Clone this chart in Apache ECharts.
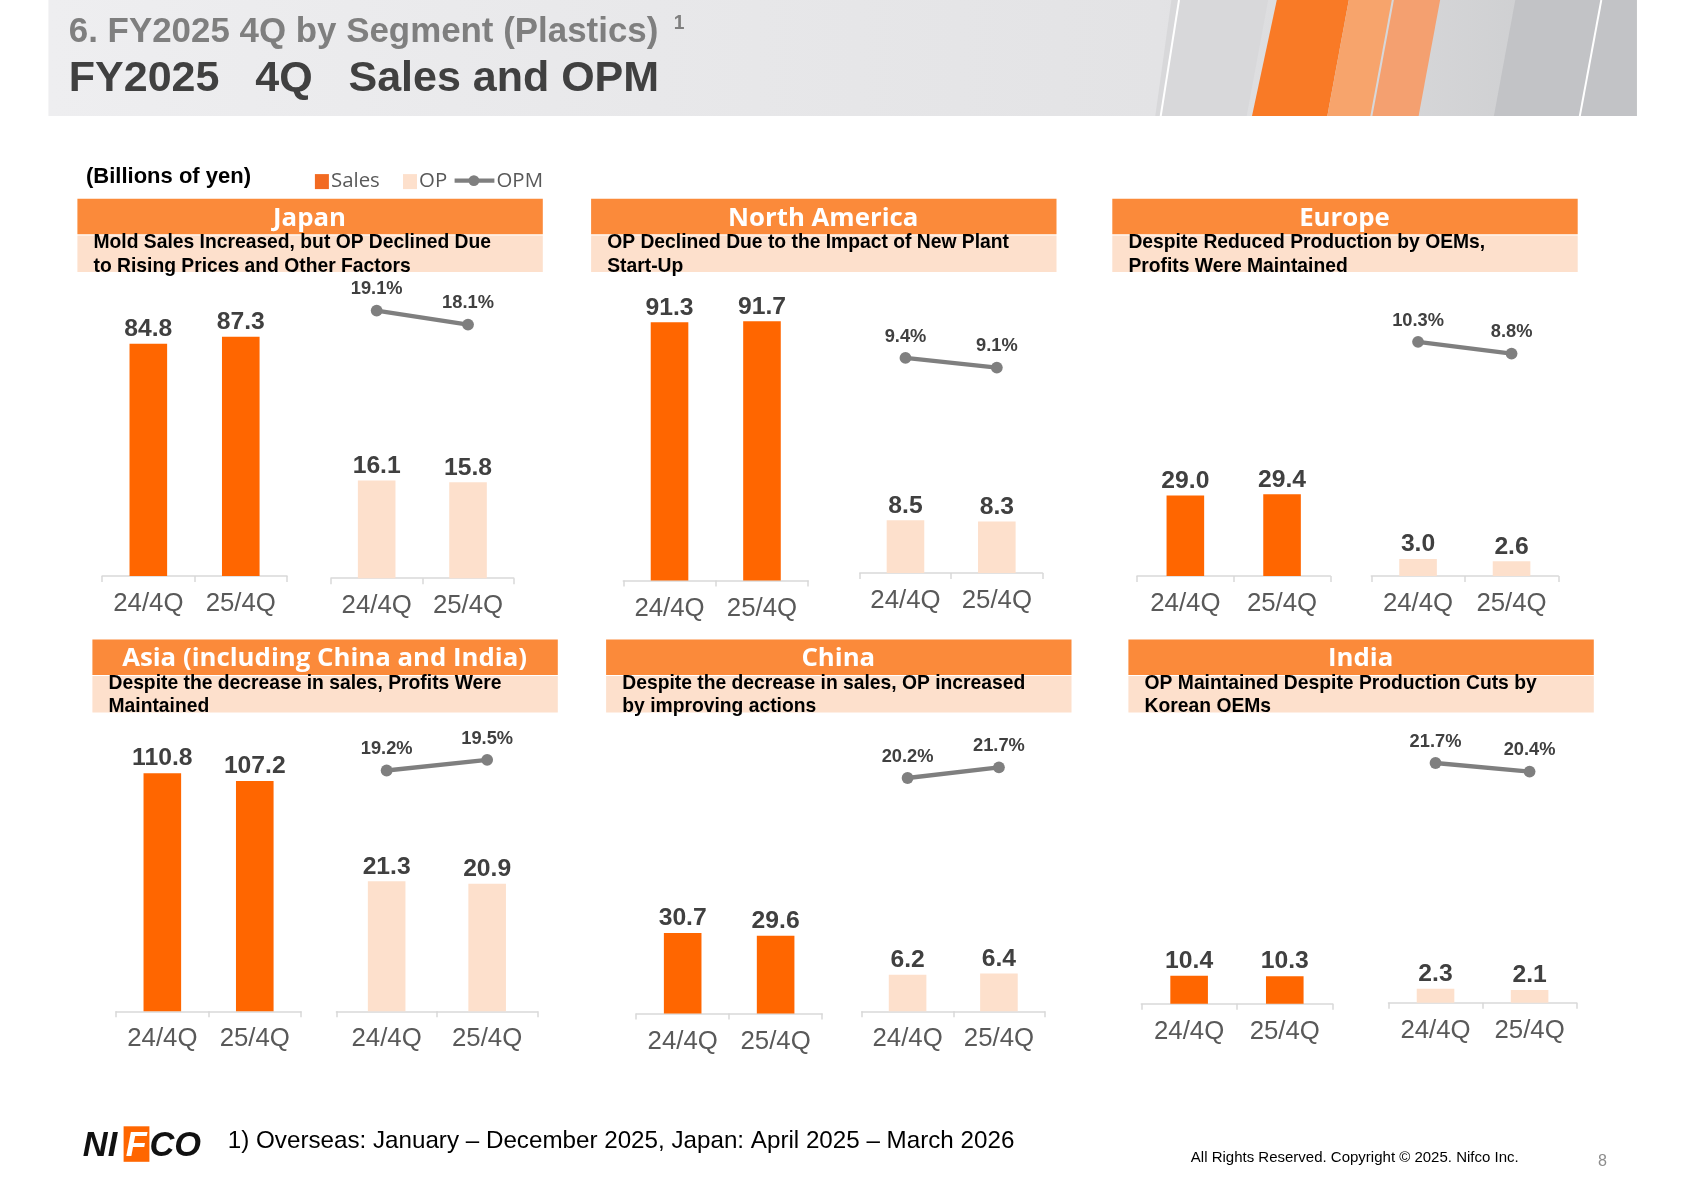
<!DOCTYPE html>
<html>
<head>
<meta charset="utf-8">
<script src="https://cdn.jsdelivr.net/npm/echarts@6/dist/echarts.min.js"></script>
<style>html,body{margin:0;padding:0;background:#fff}#c{width:1683px;height:1190px}</style>
</head>
<body>
<div id="c"></div>
<script>
/* data */
var periods = ['24/4Q', '25/4Q'];
var segments = ['Japan', 'North America', 'Europe', 'Asia (including China and India)', 'China', 'India'];
var notes = [
    ['Mold Sales Increased, but OP Declined Due', 'to Rising Prices and Other Factors'],
    ['OP Declined Due to the Impact of New Plant', 'Start-Up'],
    ['Despite Reduced Production by OEMs,', 'Profits Were Maintained'],
    ['Despite the decrease in sales, Profits Were', 'Maintained'],
    ['Despite the decrease in sales, OP increased', 'by improving actions'],
    ['OP Maintained Despite Production Cuts by', 'Korean OEMs']
];
var sales = [[84.8, 87.3], [91.3, 91.7], [29.0, 29.4], [110.8, 107.2], [30.7, 29.6], [10.4, 10.3]];
var op = [[16.1, 15.8], [8.5, 8.3], [3.0, 2.6], [21.3, 20.9], [6.2, 6.4], [2.3, 2.1]];
var opm = [[19.1, 18.1], [9.4, 9.1], [10.3, 8.8], [19.2, 19.5], [20.2, 21.7], [21.7, 20.4]];

/* layout, in reference units (scaled by K) */
var K = 1683 / 1566;
function s(v) { return Math.round(v * K * 10) / 10; }
var panels = [
    {hx: 72, hy: 185, sx: [95, 267], sb: 536, sp: 2.55, ox: [308, 478], ob: 538, op: 5.65, my: [289, 302]},
    {hx: 550, hy: 185, sx: [580, 752], sb: 540, sp: 2.63, ox: [800, 970], ob: 533, op: 5.76, my: [333, 342]},
    {hx: 1035, hy: 185, sx: [1058, 1238], sb: 536, sp: 2.59, ox: [1276, 1450], ob: 536, op: 5.3, my: [318, 329]},
    {hx: 86, hy: 595, sx: [108, 280], sb: 941, sp: 2.0, ox: [313, 500], ob: 941, op: 5.68, my: [717, 707]},
    {hx: 564, hy: 595, sx: [592, 765], sb: 943, sp: 2.44, ox: [802, 972], ob: 941, op: 5.5, my: [724, 714]},
    {hx: 1050, hy: 595, sx: [1062, 1240], sb: 934, sp: 2.5, ox: [1292, 1467], ob: 933, op: 5.6, my: [710, 718]}
];

var ORANGE = '#ff6600', LIGHT = '#fde0cc', HEAD = '#fb8a3a';
var grids = [], xAxes = [], yAxes = [], series = [], graphics = [];

function addAxes(x0, x1, top, bottom, min, max, show) {
    var i = grids.length;
    grids.push({left: s(x0), width: s(x1 - x0), top: s(top), height: s(bottom - top)});
    xAxes.push({
        type: 'category', gridIndex: i, data: periods, show: show,
        axisLine: {lineStyle: {color: '#d9d9d9', width: 1.5}},
        axisTick: {show: true, length: 6, lineStyle: {color: '#d9d9d9', width: 1.5}},
        axisLabel: {interval: 0, hideOverlap: false, color: '#595959', fontSize: s(24), margin: s(14), fontFamily: 'Liberation Sans'}
    });
    yAxes.push({type: 'value', gridIndex: i, show: false, min: min, max: max});
    return i;
}

panels.forEach(function (p, k) {
    var top = p.hy + 70;
    // sales
    var g = addAxes(p.sx[0], p.sx[1], top, p.sb, 0, (p.sb - top) / p.sp, true);
    series.push({
        type: 'bar', xAxisIndex: g, yAxisIndex: g, data: sales[k], barWidth: s(35),
        itemStyle: {color: ORANGE}, silent: true,
        label: {show: true, position: 'top', distance: 2, formatter: function (d) { return d.value.toFixed(1); },
            color: '#404040', fontWeight: 'bold', fontSize: s(23), fontFamily: 'Liberation Sans'}
    });
    // op
    g = addAxes(p.ox[0], p.ox[1], top, p.ob, 0, (p.ob - top) / p.op, true);
    series.push({
        type: 'bar', xAxisIndex: g, yAxisIndex: g, data: op[k], barWidth: s(35),
        itemStyle: {color: LIGHT}, silent: true,
        label: {show: true, position: 'top', distance: 2, formatter: function (d) { return d.value.toFixed(1); },
            color: '#404040', fontWeight: 'bold', fontSize: s(23), fontFamily: 'Liberation Sans'}
    });
    // opm line
    var v = opm[k], yHi = Math.min(p.my[0], p.my[1]), yLo = Math.max(p.my[0], p.my[1]);
    g = addAxes(p.ox[0], p.ox[1], yHi, yLo, Math.min(v[0], v[1]), Math.max(v[0], v[1]), false);
    series.push({
        type: 'line', xAxisIndex: g, yAxisIndex: g, data: v, symbol: 'circle', symbolSize: s(11),
        lineStyle: {color: '#7f7f7f', width: s(4)}, itemStyle: {color: '#7f7f7f'}, silent: true,
        label: {show: true, position: 'top', distance: s(6), formatter: function (d) { return d.value.toFixed(1) + '%'; },
            color: '#404040', fontWeight: 'bold', fontSize: s(17), fontFamily: 'Liberation Sans'}
    });
    // header boxes
    graphics.push({type: 'rect', shape: {x: s(p.hx), y: s(p.hy), width: s(433), height: s(33)}, style: {fill: HEAD}});
    graphics.push({type: 'rect', shape: {x: s(p.hx), y: s(p.hy + 34), width: s(433), height: s(34)}, style: {fill: LIGHT}});
    graphics.push({type: 'text', x: s(p.hx + 216), y: s(p.hy + 18), style: {text: segments[k], fill: '#fff',
        font: 'bold ' + s(24) + 'px "Open Sans"', align: 'center', verticalAlign: 'middle'}});
    graphics.push({type: 'text', x: s(p.hx + 15), y: s(p.hy + 30), style: {text: notes[k].join('\n'), fill: '#000',
        font: 'bold ' + s(18) + 'px "Liberation Sans"', lineHeight: s(22)}});
});

/* header band */
graphics.unshift(
    {type: 'rect', shape: {x: s(45), y: 0, width: s(1478), height: s(108)},
        style: {fill: new echarts.graphic.LinearGradient(0, 0, 1, 0, [{offset: 0, color: '#eeeef0'}, {offset: 0.7, color: '#e3e3e5'}, {offset: 1, color: '#c9cacc'}])}},
    {type: 'polygon', shape: {points: [[s(1090), 0], [s(1180), 0], [s(1160), s(108)], [s(1075), s(108)]]}, style: {fill: '#d8d8da'}},
    {type: 'polygon', shape: {points: [[s(1188), 0], [s(1255), 0], [s(1235), s(108)], [s(1165), s(108)]]}, style: {fill: '#f97a26'}},
    {type: 'polygon', shape: {points: [[s(1255), 0], [s(1295), 0], [s(1275), s(108)], [s(1235), s(108)]]}, style: {fill: '#f7a46c'}},
    {type: 'polygon', shape: {points: [[s(1297), 0], [s(1340), 0], [s(1320), s(108)], [s(1277), s(108)]]}, style: {fill: '#f4a070'}},
    {type: 'polygon', shape: {points: [[s(1410), 0], [s(1523), 0], [s(1523), s(108)], [s(1390), s(108)]]}, style: {fill: '#c2c3c6'}},
    {type: 'line', shape: {x1: s(1097), y1: 0, x2: s(1080), y2: s(108)}, style: {stroke: '#fff', lineWidth: 2}},
    {type: 'line', shape: {x1: s(1490), y1: 0, x2: s(1470), y2: s(108)}, style: {stroke: '#fff', lineWidth: 2}},
    {type: 'text', x: s(64), y: s(30), style: {text: '6. FY2025 4Q by Segment (Plastics)', fill: '#7f7f7f',
        font: 'bold ' + s(32.5) + 'px "Liberation Sans"', verticalAlign: 'middle'}},
    {type: 'text', x: s(627), y: s(22), style: {text: '1', fill: '#7f7f7f', font: 'bold ' + s(18) + 'px "Liberation Sans"', verticalAlign: 'middle'}},
    {type: 'text', x: s(64), y: s(74), style: {text: 'FY2025   4Q   Sales and OPM', fill: '#404040',
        font: 'bold ' + s(40) + 'px "Liberation Sans"', verticalAlign: 'middle'}}
);

/* legend */
graphics.push(
    {type: 'text', x: s(80), y: s(165), style: {text: '(Billions of yen)', fill: '#000', font: 'bold ' + s(20.5) + 'px "Liberation Sans"', verticalAlign: 'middle'}},
    {type: 'rect', shape: {x: s(293), y: s(162), width: s(13), height: s(14)}, style: {fill: '#f26a21'}},
    {type: 'text', x: s(308), y: s(169), style: {text: 'Sales', fill: '#595959', font: s(19) + 'px "Open Sans"', verticalAlign: 'middle'}},
    {type: 'rect', shape: {x: s(375), y: s(162), width: s(13), height: s(14)}, style: {fill: LIGHT}},
    {type: 'text', x: s(390), y: s(169), style: {text: 'OP', fill: '#595959', font: s(19) + 'px "Open Sans"', verticalAlign: 'middle'}},
    {type: 'line', shape: {x1: s(423), y1: s(168), x2: s(460), y2: s(168)}, style: {stroke: '#7f7f7f', lineWidth: s(4)}},
    {type: 'circle', shape: {cx: s(441), cy: s(168), r: s(5)}, style: {fill: '#7f7f7f'}},
    {type: 'text', x: s(462), y: s(169), style: {text: 'OPM', fill: '#595959', font: s(19) + 'px "Open Sans"', verticalAlign: 'middle'}}
);

/* footer */
graphics.push(
    {type: 'text', x: s(77), y: s(1067), style: {text: 'NI', fill: '#111', font: 'italic bold ' + s(32) + 'px "Liberation Sans"', verticalAlign: 'middle'}},
    {type: 'rect', shape: {x: s(115), y: s(1048), width: s(24), height: s(33)}, style: {fill: ORANGE}},
    {type: 'text', x: s(117), y: s(1067), style: {text: 'F', fill: '#fff', font: 'italic bold ' + s(32) + 'px "Liberation Sans"', verticalAlign: 'middle'}},
    {type: 'text', x: s(139), y: s(1067), style: {text: 'CO', fill: '#111', font: 'italic bold ' + s(32) + 'px "Liberation Sans"', verticalAlign: 'middle'}},
    {type: 'text', x: s(212), y: s(1062), style: {text: '1) Overseas: January \u2013 December 2025, Japan: April 2025 \u2013 March 2026', fill: '#000',
        font: s(22.5) + 'px "Liberation Sans"', verticalAlign: 'middle'}},
    {type: 'text', x: s(1108), y: s(1077), style: {text: 'All Rights Reserved. Copyright \u00a9 2025. Nifco Inc.', fill: '#000',
        font: s(14) + 'px "Liberation Sans"', verticalAlign: 'middle'}},
    {type: 'text', x: s(1487), y: s(1081), style: {text: '8', fill: '#8c8c8c', font: s(15) + 'px "Liberation Sans"', verticalAlign: 'middle'}}
);

var chart = echarts.init(document.getElementById('c'));
chart.setOption({
    animation: false,
    grid: grids, xAxis: xAxes, yAxis: yAxes, series: series,
    graphic: graphics
});
</script>
</body>
</html>
